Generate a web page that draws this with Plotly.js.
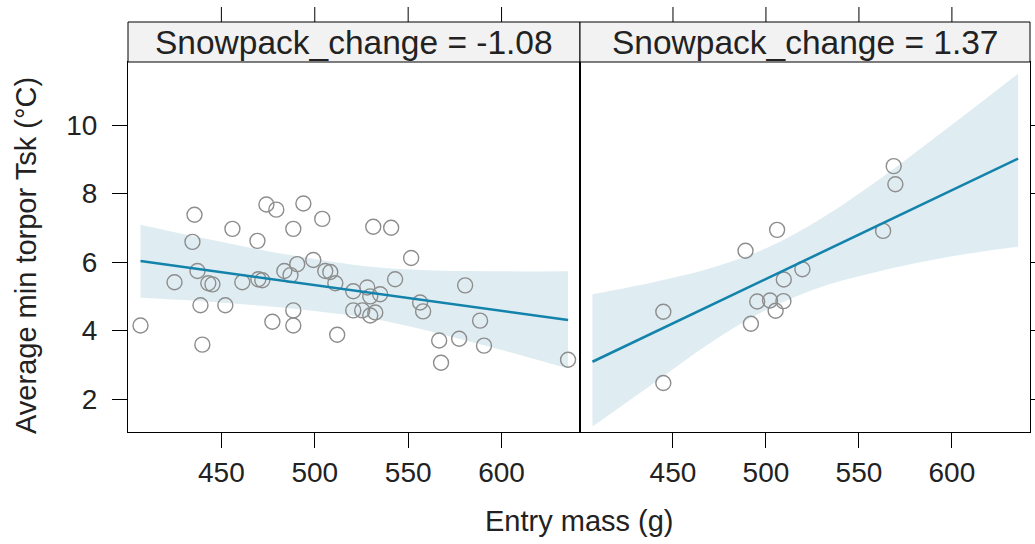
<!DOCTYPE html>
<html>
<head>
<meta charset="utf-8">
<script src="https://cdn.plot.ly/plotly-3.0.1.min.js"></script>
<style>html,body{margin:0;padding:0;background:#fff;}#chart{width:1035px;height:544px;}</style>
</head>
<body>
<div id="chart"></div>
<script>
// Panel labels
const panelLabels = ["Snowpack_change = -1.08", "Snowpack_change = 1.37"];

// Observed points, panel Snowpack_change = -1.08
const leftMass = [406.7, 424.9, 434.5, 435.6, 437.2, 438.8, 439.8, 443.0, 445.2, 452.1, 455.9, 461.2,
  469.3, 469.8, 471.9, 474.1, 477.3, 479.4, 483.7, 487.0, 488.5, 488.5, 488.5, 490.6, 493.9, 499.2,
  504.0, 505.6, 508.3, 511.0, 512.0, 520.6, 520.6, 525.4, 528.1, 529.7, 529.7, 531.3, 532.4, 535.0,
  540.9, 543.0, 551.6, 556.4, 558.0, 566.6, 567.6, 577.3, 580.5, 588.5, 590.6, 635.6];
const leftTsk = [4.15, 5.41, 6.59, 7.38, 5.74, 4.74, 3.59, 5.38, 5.35, 4.74, 6.97, 5.41,
  6.62, 5.50, 5.47, 7.68, 4.26, 7.53, 5.74, 5.62, 6.97, 4.59, 4.15, 5.94, 7.71, 6.06,
  7.26, 5.74, 5.71, 5.38, 3.88, 5.15, 4.59, 4.59, 5.26, 5.00, 4.44, 7.03, 4.53, 5.06,
  7.00, 5.50, 6.12, 4.82, 4.56, 3.71, 3.06, 3.76, 5.32, 4.29, 3.56, 3.15];

// Observed points, panel Snowpack_change = 1.37
const rightMass = [444.8, 444.8, 489.0, 491.9, 495.3, 502.2, 505.2, 506.0, 509.6, 509.4, 519.6, 563.0, 568.7, 569.6];
const rightTsk = [4.55, 2.47, 6.33, 4.20, 4.85, 4.88, 4.58, 6.94, 5.49, 4.86, 5.79, 6.91, 8.80, 8.27];

// Fitted effect and 95% band
const fitMass = [406.7, 440, 470, 500, 530, 560, 600, 635.6];
const leftFit = [6.03, 5.78, 5.55, 5.33, 5.10, 4.88, 4.58, 4.31];
const leftLower = [4.96, 4.86, 4.73, 4.57, 4.35, 4.00, 3.43, 2.89];
const leftUpper = [7.09, 6.70, 6.37, 6.09, 5.86, 5.76, 5.73, 5.73];
const rightFit = [3.09, 3.95, 4.73, 5.50, 6.28, 7.05, 8.09, 9.02];
const rightLower = [1.20, 2.48, 3.64, 4.60, 5.28, 5.72, 6.17, 6.45];
const rightUpper = [5.06, 5.42, 5.82, 6.40, 7.28, 8.38, 10.01, 11.50];

// Axis ticks
const xTicks = [450, 500, 550, 600];
const yTicks = [2, 4, 6, 8, 10];

const FONT = "Liberation Sans, Arial, Helvetica, sans-serif";
const bandColor = "#dfedf2";
const lineColor = "#1483ab";
const ptColor = "#8d8d8d";

function panelTraces(xa, ya, lower, upper, fit, mass, tsk) {
  return [
    {x: fitMass, y: lower, xaxis: xa, yaxis: ya, mode: "lines", line: {width: 0, shape: "spline", color: bandColor}, hoverinfo: "skip", showlegend: false},
    {x: fitMass, y: upper, xaxis: xa, yaxis: ya, mode: "lines", line: {width: 0, shape: "spline", color: bandColor}, fill: "tonexty", fillcolor: bandColor, hoverinfo: "skip", showlegend: false},
    {x: mass, y: tsk, xaxis: xa, yaxis: ya, mode: "markers", marker: {symbol: "circle-open", size: 15, color: ptColor, line: {width: 1.4, color: ptColor}}, showlegend: false},
    {x: fitMass, y: fit, xaxis: xa, yaxis: ya, mode: "lines", line: {width: 2.6, color: lineColor}, showlegend: false}
  ];
}

const data = [].concat(
  panelTraces("x", "y", leftLower, leftUpper, leftFit, leftMass, leftTsk),
  panelTraces("x2", "y2", rightLower, rightUpper, rightFit, rightMass, rightTsk)
);

const split = 452 / 902;
const xRange = [400, 642];
const yRange = [1.04, 11.84];
const plotH = 370;
const stripTop = 1 + 40 / plotH;
const tickTop = 1 + 55 / plotH;

const commonX = {
  range: xRange, tickvals: xTicks, ticktext: xTicks.map(String), ticks: "outside", ticklen: 15, tickwidth: 1, tickcolor: "#000",
  showline: true, linecolor: "#000", linewidth: 1, mirror: true, showgrid: false, zeroline: false,
  tickfont: {family: FONT, size: 28, color: "#222"}
};
const commonY = {
  range: yRange, tickvals: yTicks, ticks: "outside", ticklen: 15, tickwidth: 1, tickcolor: "#000",
  showline: true, linecolor: "#000", linewidth: 1, mirror: true, showgrid: false, zeroline: false,
  ticklabelstandoff: 9,
  tickfont: {family: FONT, size: 28, color: "#222"}
};

const shapes = [];
const annotations = [];
[[0, split], [split, 1]].forEach((d, i) => {
  shapes.push({type: "rect", xref: "paper", yref: "paper", x0: d[0], x1: d[1], y0: 1, y1: stripTop, fillcolor: "#f2f2f2", line: {color: "#000", width: 1}, layer: "above"});
  annotations.push({xref: "paper", yref: "paper", x: (d[0] + d[1]) / 2, y: (1 + stripTop) / 2, yanchor: "middle", xanchor: "center", showarrow: false, text: panelLabels[i], font: {family: FONT, size: 33.5, color: "#222"}});
  xTicks.forEach(v => shapes.push({type: "line", xref: i === 0 ? "x" : "x2", yref: "paper", x0: v, x1: v, y0: stripTop, y1: tickTop, line: {color: "#000", width: 1}}));
});
annotations.push({xref: "paper", yref: "paper", x: 0.5, y: -0.24, yanchor: "middle", xanchor: "center", showarrow: false, text: "Entry mass (g)", font: {family: FONT, size: 29, color: "#222"}});
annotations.push({xref: "paper", yref: "paper", x: -0.113, y: 0.476, yanchor: "middle", xanchor: "center", showarrow: false, textangle: -90, text: "Average min torpor Tsk (°C)", font: {family: FONT, size: 29, color: "#222"}});

const layout = {
  width: 1035, height: 544,
  margin: {l: 128, r: 5, t: 62, b: 112, pad: 0},
  paper_bgcolor: "#fff", plot_bgcolor: "#fff",
  showlegend: false,
  xaxis: Object.assign({}, commonX, {domain: [0, split], anchor: "y"}),
  xaxis2: Object.assign({}, commonX, {domain: [split, 1], anchor: "y2"}),
  yaxis: Object.assign({}, commonY, {anchor: "x", side: "left", showticklabels: true}),
  yaxis2: Object.assign({}, commonY, {anchor: "x2", side: "right", showticklabels: false}),
  shapes: shapes,
  annotations: annotations
};

Plotly.newPlot("chart", data, layout, {staticPlot: true, displayModeBar: false});
</script>
</body>
</html>
